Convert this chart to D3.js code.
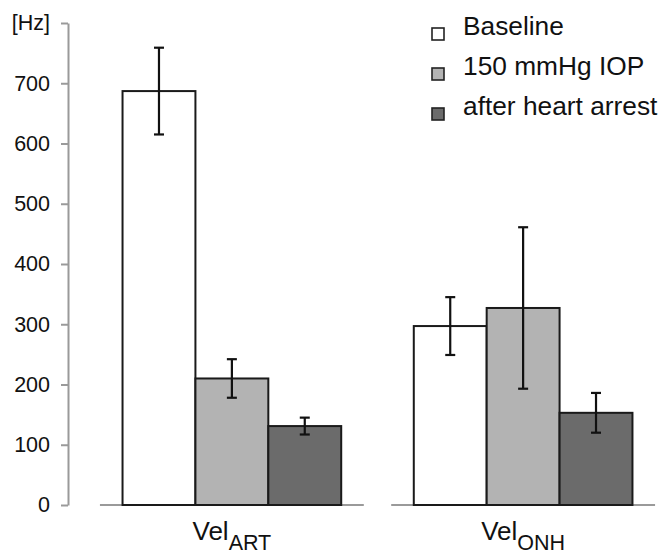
<!DOCTYPE html>
<html>
<head>
<meta charset="utf-8">
<script src="https://cdn.jsdelivr.net/npm/d3@7"></script>
<style>
  html, body { margin: 0; padding: 0; background: #fff; }
  svg { display: block; font-family: "Liberation Sans", Arial, sans-serif; }
</style>
</head>
<body>
<svg id="chart" width="662" height="554"></svg>
<script>
// ---- data ----
const categories = ["ART", "ONH"];
const seriesNames = ["Baseline", "150 mmHg IOP", "after heart arrest"];
const seriesColors = ["#ffffff", "#b3b3b3", "#6b6b6b"];
const baselineValues = [687, 297];
const iopValues = [210, 327];
const arrestValues = [131, 153];
const baselineErrors = [72, 48];
const iopErrors = [32, 134];
const arrestErrors = [14, 33];
const tickValues = [0, 100, 200, 300, 400, 500, 600, 700, 800];
const tickLabels = ["0", "100", "200", "300", "400", "500", "600", "700", "[Hz]"];

const seriesValues = [baselineValues, iopValues, arrestValues];
const seriesErrors = [baselineErrors, iopErrors, arrestErrors];

const svg = d3.select("#chart");

const y = d3.scaleLinear().domain([0, 800]).range([505, 23]);
const x0 = d3.scaleBand().domain(categories).range([86.25, 668.75])
  .paddingInner(0.094).paddingOuter(0.047);
const x1 = d3.scaleBand().domain(seriesNames).range([0, x0.bandwidth()])
  .paddingInner(0).paddingOuter(0.31);

// baseline segments
svg.append("g").selectAll("line").data(categories).join("line")
  .attr("x1", d => x0(d)).attr("x2", d => x0(d) + x0.bandwidth())
  .attr("y1", y(0)).attr("y2", y(0))
  .attr("stroke", "#9a9a9a").attr("stroke-width", 2);

// y axis
const yAxis = d3.axisLeft(y).tickValues(tickValues)
  .tickFormat((d, i) => tickLabels[i])
  .tickSize(7).tickSizeOuter(0).tickPadding(11);
const ga = svg.append("g").attr("transform", "translate(68,0)").call(yAxis);
ga.select(".domain").attr("stroke", "#9a9a9a").attr("stroke-width", 2);
ga.selectAll(".tick line").attr("stroke", "#9a9a9a").attr("stroke-width", 2);
ga.selectAll(".tick text").attr("font-size", 21.5).attr("fill", "#111")
  .attr("font-family", "Liberation Sans, Arial, sans-serif");

// bars
const flat = [];
categories.forEach((c, ci) => {
  seriesNames.forEach((s, si) => {
    flat.push({cat: c, series: s, si, value: seriesValues[si][ci], err: seriesErrors[si][ci]});
  });
});

const gb = svg.append("g");
gb.selectAll("rect").data(flat).join("rect")
  .attr("x", d => x0(d.cat) + x1(d.series))
  .attr("y", d => y(d.value))
  .attr("width", x1.bandwidth())
  .attr("height", d => y(0) - y(d.value))
  .attr("fill", d => seriesColors[d.si])
  .attr("stroke", "#1a1a1a").attr("stroke-width", 2);

// error bars
const ge = svg.append("g").attr("stroke", "#111").attr("stroke-width", 2.2);
const cap = 5;
flat.forEach(d => {
  const cx = x0(d.cat) + x1(d.series) + x1.bandwidth() / 2;
  const yt = y(d.value + d.err), yb = y(d.value - d.err);
  ge.append("line").attr("x1", cx).attr("x2", cx).attr("y1", yt).attr("y2", yb);
  ge.append("line").attr("x1", cx - cap).attr("x2", cx + cap).attr("y1", yt).attr("y2", yt);
  ge.append("line").attr("x1", cx - cap).attr("x2", cx + cap).attr("y1", yb).attr("y2", yb);
});

// x labels
const gl = svg.append("g");
categories.forEach(c => {
  const t = gl.append("text")
    .attr("x", x0(c) + x0.bandwidth() / 2).attr("y", 539.5)
    .attr("text-anchor", "middle").attr("fill", "#111").attr("font-size", 26);
  t.append("tspan").text("Vel");
  t.append("tspan").attr("font-size", 21.5).attr("dy", 10).text(c);
});

// legend
const legY = [34, 74, 114];
const lg = svg.append("g");
seriesNames.forEach((s, i) => {
  lg.append("rect").attr("x", 432).attr("y", legY[i] - 6).attr("width", 12).attr("height", 12)
    .attr("fill", seriesColors[i]).attr("stroke", "#222").attr("stroke-width", 1.6);
  lg.append("text").attr("x", 463).attr("y", legY[i] + 1)
    .attr("font-size", 26.3).attr("fill", "#111").text(s);
});
</script>
</body>
</html>
